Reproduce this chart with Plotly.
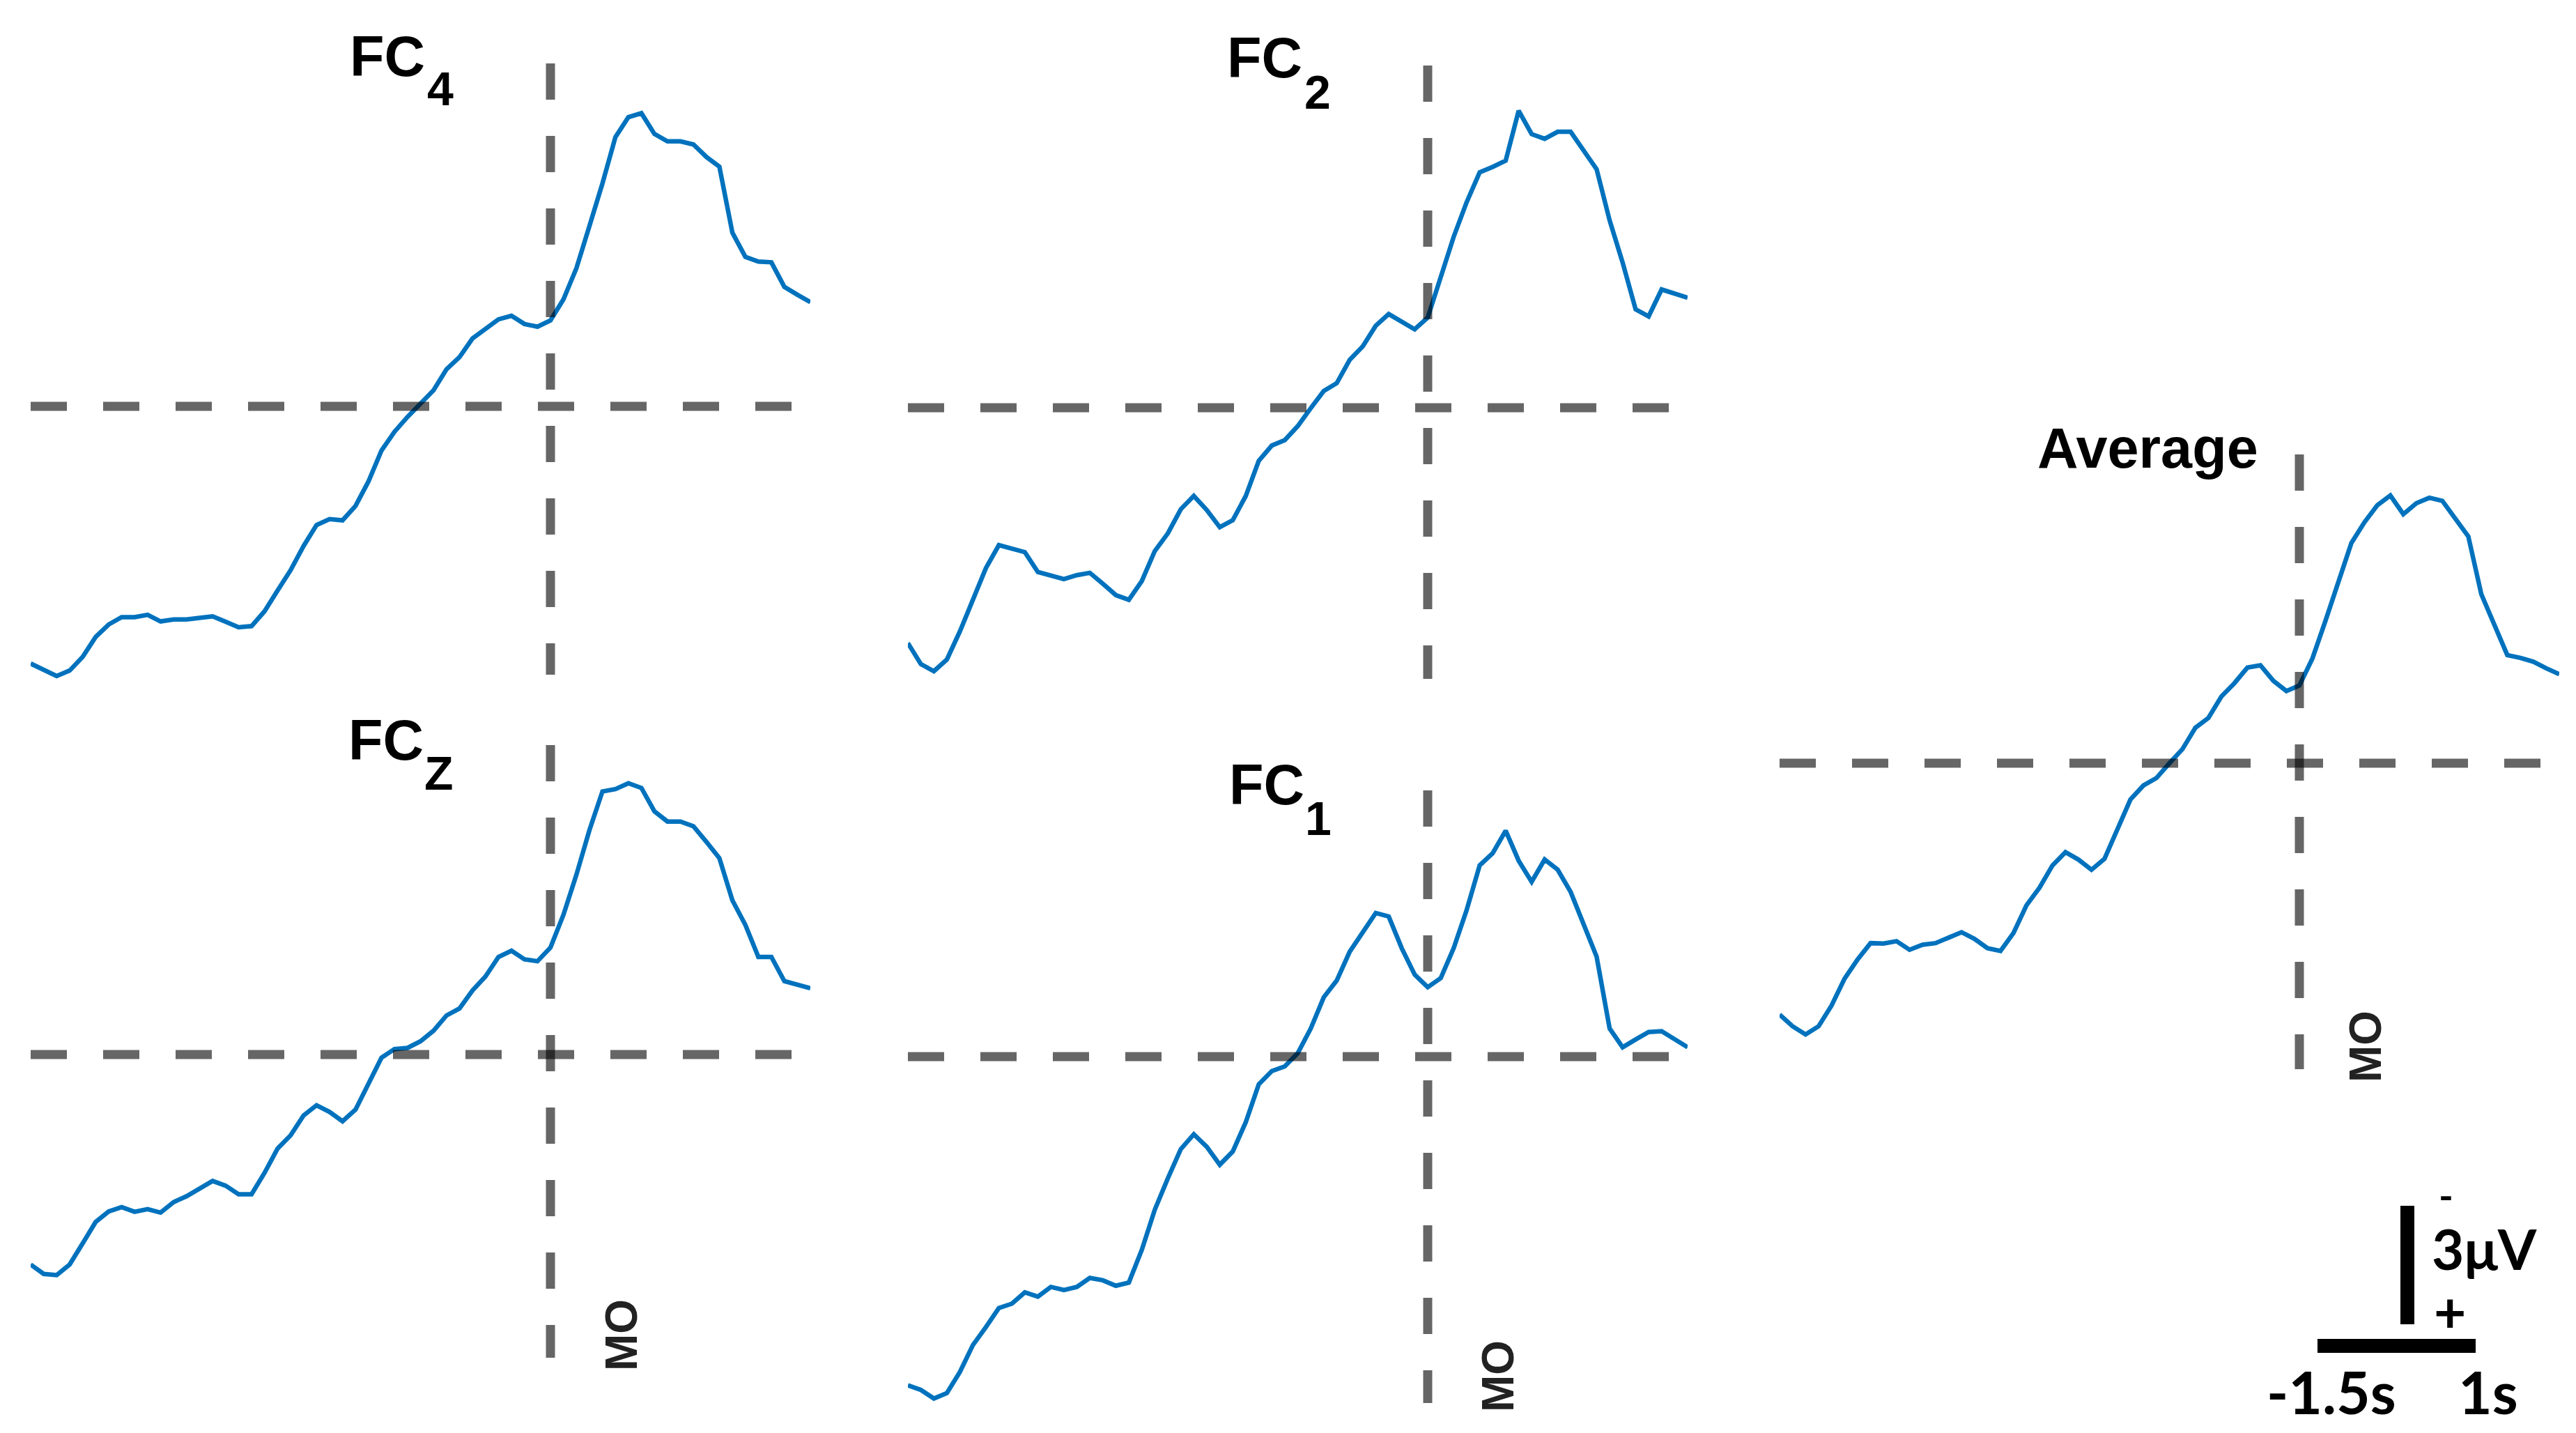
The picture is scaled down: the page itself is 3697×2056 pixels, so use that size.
import plotly.graph_objects as go

# time relative to movement onset (MO), seconds
time_s = [-2.00, -1.95, -1.90, -1.85, -1.80, -1.75, -1.70, -1.65, -1.60, -1.55,
          -1.50, -1.45, -1.40, -1.35, -1.30, -1.25, -1.20, -1.15, -1.10, -1.05,
          -1.00, -0.95, -0.90, -0.85, -0.80, -0.75, -0.70, -0.65, -0.60, -0.55,
          -0.50, -0.45, -0.40, -0.35, -0.30, -0.25, -0.20, -0.15, -0.10, -0.05,
          0.00, 0.05, 0.10, 0.15, 0.20, 0.25, 0.30, 0.35, 0.40, 0.45,
          0.50, 0.55, 0.60, 0.65, 0.70, 0.75, 0.80, 0.85, 0.90, 0.95, 1.00]

# amplitudes in microvolts (negative plotted up)
fc4 = [6.59, 6.75, 6.91, 6.77, 6.42, 5.91, 5.59, 5.40, 5.40, 5.34,
       5.51, 5.46, 5.46, 5.42, 5.38, 5.52, 5.66, 5.63, 5.25, 4.72,
       4.20, 3.58, 3.04, 2.89, 2.92, 2.55, 1.92, 1.13, 0.65, 0.27,
       -0.07, -0.41, -0.95, -1.26, -1.74, -2.00, -2.23, -2.32, -2.11, -2.04,
       -2.20, -2.74, -3.54, -4.62, -5.71, -6.90, -7.41, -7.51, -6.98, -6.79,
       -6.79, -6.71, -6.39, -6.14, -4.45, -3.83, -3.71, -3.69, -3.06, -2.86, -2.67]
fc2 = [6.03, 6.57, 6.75, 6.45, 5.73, 4.89, 4.11, 3.52, 3.60, 3.70,
       4.21, 4.29, 4.39, 4.29, 4.23, 4.51, 4.80, 4.92, 4.44, 3.67,
       3.22, 2.60, 2.26, 2.62, 3.06, 2.88, 2.26, 1.36, 0.97, 0.83,
       0.47, 0.01, -0.43, -0.63, -1.23, -1.57, -2.10, -2.40, -2.21, -2.01,
       -2.31, -3.30, -4.38, -5.27, -6.03, -6.17, -6.33, -7.61, -7.01, -6.89,
       -7.07, -7.07, -6.59, -6.11, -4.80, -3.72, -2.52, -2.34, -3.03, -2.92, -2.82]
fcz = [5.38, 5.62, 5.65, 5.38, 4.84, 4.29, 4.02, 3.91, 4.03, 3.96,
       4.05, 3.78, 3.63, 3.42, 3.24, 3.36, 3.58, 3.58, 3.03, 2.41,
       2.07, 1.56, 1.30, 1.47, 1.71, 1.41, 0.77, 0.08, -0.14, -0.17,
       -0.34, -0.61, -1.00, -1.18, -1.64, -2.00, -2.50, -2.66, -2.44, -2.39,
       -2.74, -3.58, -4.61, -5.75, -6.74, -6.80, -6.95, -6.83, -6.23, -5.97,
       -5.97, -5.85, -5.45, -5.03, -3.95, -3.32, -2.50, -2.50, -1.88, -1.78, -1.70]
fc1 = [8.42, 8.54, 8.76, 8.62, 8.08, 7.39, 6.93, 6.44, 6.33, 6.04,
       6.15, 5.90, 5.98, 5.90, 5.67, 5.73, 5.87, 5.79, 4.95, 3.92,
       3.12, 2.37, 1.99, 2.31, 2.77, 2.43, 1.68, 0.71, 0.37, 0.25,
       -0.09, -0.72, -1.52, -1.95, -2.69, -3.19, -3.68, -3.59, -2.78, -2.10,
       -1.78, -2.01, -2.78, -3.76, -4.90, -5.21, -5.79, -5.02, -4.48, -5.05,
       -4.79, -4.22, -3.36, -2.56, -0.72, -0.24, -0.44, -0.63, -0.65, -0.44, -0.24]
average = [6.44, 6.74, 6.95, 6.74, 6.21, 5.52, 5.03, 4.61, 4.62, 4.56,
           4.78, 4.65, 4.61, 4.46, 4.33, 4.50, 4.74, 4.81, 4.35, 3.64,
           3.19, 2.62, 2.28, 2.47, 2.73, 2.45, 1.71, 0.93, 0.57, 0.38,
           0.00, -0.36, -0.91, -1.16, -1.71, -2.05, -2.45, -2.51, -2.11, -1.85,
           -1.99, -2.68, -3.64, -4.65, -5.64, -6.17, -6.61, -6.86, -6.38, -6.66,
           -6.80, -6.72, -6.24, -5.81, -4.33, -3.55, -2.77, -2.70, -2.60, -2.43, -2.28]

label_main = ["FC", "FC", "FC", "FC", "Average"]
label_sub = ["4", "2", "Z", "1", ""]
show_mo = [False, False, True, True, True]
mo_text = "MO"
scale_volt = ["-", "3\u03bcV", "+"]
scale_time = ["-1.5s", "1s"]

series = [fc4, fc2, fcz, fc1, average]

# ---- layout (pixels of the 3697x2056 page) ----
W, H = 3697, 2056
PX_PER_UV = 56
BLUE = "#0072BD"
DASH_COL = "rgba(0,0,0,0.6)"
DASH = "52px,52px"

panels = [
    dict(x0=36, x1=1155, top=0, bot=1010, zero=575, mo_top=83, mo_bot=960,
         lab=(492, 73), sub=(603, 119), mo=None),
    dict(x0=1295, x1=2414, top=0, bot=1010, zero=577, mo_top=86, mo_bot=966,
         lab=(1751, 75), sub=(1862, 124), mo=None),
    dict(x0=36, x1=1155, top=1010, bot=H, zero=1505, mo_top=1061, mo_bot=1940,
         lab=(490, 1054), sub=(599, 1101), mo=(884, 1908)),
    dict(x0=1295, x1=2414, top=1010, bot=H, zero=1508, mo_top=1126, mo_bot=2005,
         lab=(1754, 1118), sub=(1863, 1166), mo=(2142, 1967)),
    dict(x0=2546, x1=3665, top=0, bot=H, zero=1087, mo_top=644, mo_bot=1526,
         lab=(2914, 635), sub=None, mo=(3387, 1494)),
]


def px(x):
    return x / W


def py(y):
    return 1 - y / H


fig = go.Figure()
layout = dict(width=W, height=H, margin=dict(l=0, r=0, t=0, b=0),
              paper_bgcolor="white", plot_bgcolor="rgba(0,0,0,0)",
              showlegend=False)
shapes = []
annotations = []

for i, (p, vals) in enumerate(zip(panels, series)):
    n = "" if i == 0 else str(i + 1)
    xa, ya = "xaxis" + n, "yaxis" + n
    v_top = (p["top"] - p["zero"]) / PX_PER_UV
    v_bot = (p["bot"] - p["zero"]) / PX_PER_UV
    layout[xa] = dict(domain=[px(p["x0"]), px(p["x1"])], range=[time_s[0], time_s[-1]],
                      visible=False, anchor="y" + n)
    layout[ya] = dict(domain=[py(p["bot"]), py(p["top"])], range=[v_bot, v_top],
                      visible=False, anchor="x" + n)
    fig.add_trace(go.Scatter(x=time_s, y=vals, mode="lines", xaxis="x" + n, yaxis="y" + n,
                             line=dict(color=BLUE, width=6.5), hoverinfo="skip", cliponaxis=False))
    # zero line and movement-onset line
    shapes.append(dict(type="line", xref="x" + n, yref="y" + n,
                       x0=time_s[0], x1=time_s[-1], y0=0, y1=0,
                       line=dict(color=DASH_COL, width=13, dash=DASH), layer="above"))
    shapes.append(dict(type="line", xref="x" + n, yref="paper",
                       x0=0, x1=0, y0=py(p["mo_top"]), y1=py(p["mo_bot"]),
                       line=dict(color=DASH_COL, width=13, dash=DASH), layer="above"))
    # channel label
    annotations.append(dict(text="<b>%s</b>" % label_main[i], xref="paper", yref="paper",
                            x=px(p["lab"][0]), y=py(p["lab"][1]), xanchor="left",
                            yanchor="middle", showarrow=False,
                            font=dict(family="Liberation Sans", size=81, color="black")))
    if p["sub"] and label_sub[i]:
        annotations.append(dict(text="<b>%s</b>" % label_sub[i], xref="paper", yref="paper",
                                x=px(p["sub"][0]), y=py(p["sub"][1]), xanchor="left",
                                yanchor="middle", showarrow=False,
                                font=dict(family="Liberation Sans", size=68, color="black")))
    if show_mo[i] and p["mo"]:
        annotations.append(dict(text="<b>%s</b>" % mo_text, xref="paper", yref="paper",
                                x=px(p["mo"][0]), y=py(p["mo"][1]), xanchor="center",
                                yanchor="middle", textangle=-90, showarrow=False,
                                font=dict(family="Liberation Sans", size=64, color="#222222")))

# scale bar
shapes.append(dict(type="line", xref="paper", yref="paper", x0=px(3447), x1=px(3447),
                   y0=py(1892), y1=py(1722), line=dict(color="black", width=20)))
shapes.append(dict(type="line", xref="paper", yref="paper", x0=px(3318), x1=px(3545),
                   y0=py(1923), y1=py(1923), line=dict(color="black", width=20)))

volt_pos = [(3502, 1706), (3557, 1783), (3508, 1873)]
volt_size = [56, 80, 80]
for txt, (x, y), s in zip(scale_volt, volt_pos, volt_size):
    annotations.append(dict(text="<b>%s</b>" % txt, xref="paper", yref="paper", x=px(x), y=py(y),
                            xanchor="center", yanchor="middle", showarrow=False,
                            font=dict(family="Lato", size=s, color="black")))
sb_font = dict(family="Lato", size=84, color="black")
for txt, (x, y) in zip(scale_time, [(3338, 1988), (3563, 1988)]):
    annotations.append(dict(text="<b>%s</b>" % txt, xref="paper", yref="paper", x=px(x), y=py(y),
                            xanchor="center", yanchor="middle", showarrow=False, font=sb_font))

layout["shapes"] = shapes
layout["annotations"] = annotations
fig.update_layout(**layout)
fig.write_html("out.html")
